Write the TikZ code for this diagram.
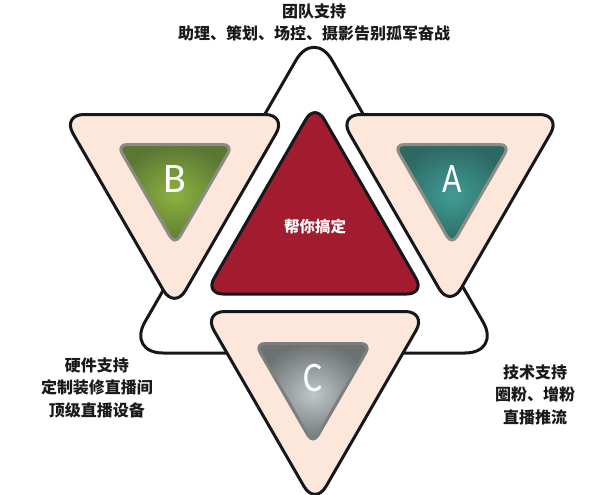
\documentclass[tikz,border=0pt]{standalone}
\usepackage{fontspec}
\usepackage{graphicx}
\setmainfont{Carlito}
\newfontfamily\cjk{Noto Sans CJK SC}
\definecolor{lineblack}{HTML}{14181B}
\definecolor{pinkfill}{HTML}{FDE6DA}
\definecolor{redfill}{HTML}{A21B2F}
\definecolor{txtdark}{HTML}{1A1A1A}
\definecolor{grnin}{HTML}{8DB23E}
\definecolor{grnout}{HTML}{5A7833}
\definecolor{tealin}{HTML}{409C96}
\definecolor{tealout}{HTML}{2E6862}
\definecolor{grayin}{HTML}{BFC7C9}
\definecolor{grayout}{HTML}{6C7171}
\definecolor{innerline}{HTML}{8C8C86}
\tikzset{
  frame/.style={draw=lineblack, line width=3pt, line join=round},
  bigtri/.style={frame, fill=white, rounded corners=36pt},
  pinktri/.style={frame, fill=pinkfill, rounded corners=22pt},
  redtri/.style={frame, fill=redfill, rounded corners=18pt},
  innertri/.style={draw=innerline, line width=3pt, rounded corners=10pt},
  letter/.style={text=white, font=\fontsize{42}{42}\selectfont, inner sep=0pt},
  cjktext/.style={text=txtdark, align=center, font=\cjk\bfseries\fontsize{16}{22.5}\selectfont, inner sep=0pt},
}
\begin{document}
\begin{tikzpicture}[x=1pt,y=-1pt]
\useasboundingbox (0,0) rectangle (600,495);
% big outline triangle
\path[bigtri] (127,353) -- (314,29) -- (501,353) -- cycle;
% pink triangles
\path[pinktri] (62,114.5) -- (287,114.5) -- (174.5,309.5) -- cycle;
\path[pinktri] (338.5,114.5) -- (561.5,114.5) -- (450,307.6) -- cycle;
\path[pinktri] (203,311.5) -- (427,311.5) -- (315,505.5) -- cycle;
% red centre triangle
\path[redtri] (205,294) -- (425,294) -- (315,103.5) -- cycle;
% inner shaded triangles
\shadedraw[innertri, inner color=grnin, outer color=grnout] (117,144.5) -- (233,144.5) -- (175,245) -- cycle;
\shadedraw[innertri, inner color=tealin, outer color=tealout] (394,144.5) -- (510,144.5) -- (452,245) -- cycle;
\shadedraw[innertri, inner color=grayin, outer color=grayout, draw=grayout!90!white] (255,343.5) -- (371,343.5) -- (313,444) -- cycle;
% letters
\node[letter] (lb) at (175,179) {B};
\node[letter] (la) at (452,179) {\scalebox{0.8}[1]{A}};
\node[letter] (lc) at (313,378) {\scalebox{0.85}[1]{C}};
% texts
\node[text=white, font=\cjk\bfseries\fontsize{15.5}{15.5}\selectfont, inner sep=0pt] (center) at (315,227) {帮你搞定};
\node[cjktext] (top) at (314,22.5) {团队支持\\助理、策划、场控、摄影告别孤军奋战};
\node[cjktext] (left) at (97,387.5) {硬件支持\\定制装修直播间\\顶级直播设备};
\node[cjktext] (right) at (535,394.5) {技术支持\\圈粉、增粉\\直播推流};
\end{tikzpicture}
\end{document}
